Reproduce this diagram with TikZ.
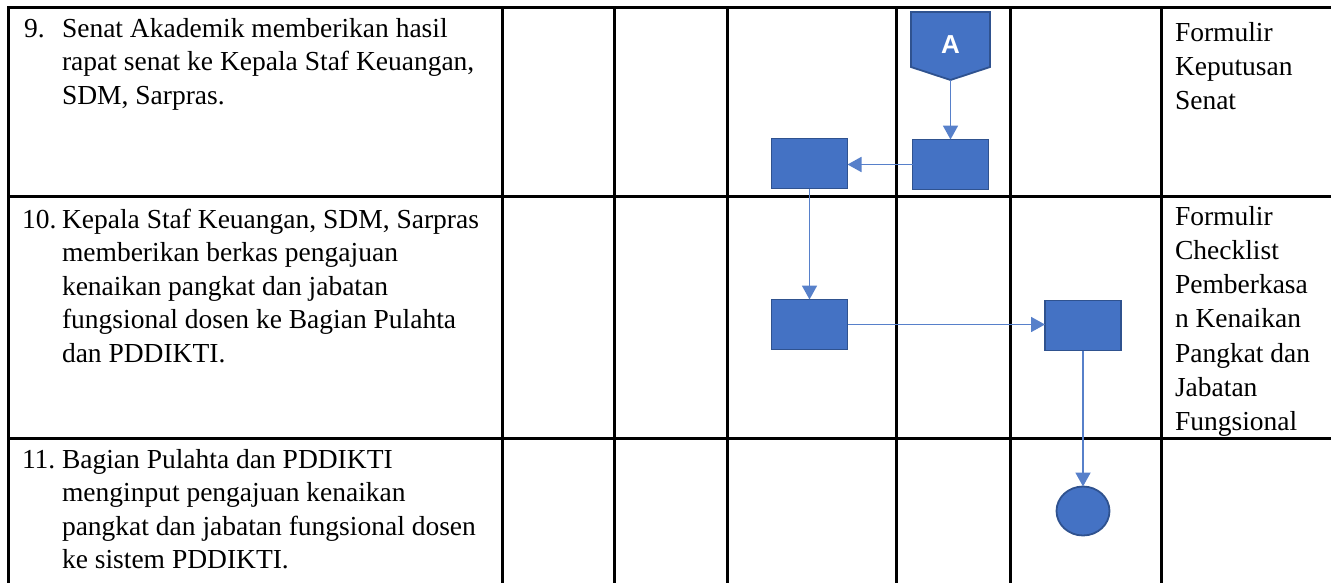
\documentclass[tikz,border=0pt]{standalone}
\usepackage{fontspec}
\setmainfont{Liberation Serif}
\newfontfamily\arialfont{Liberation Sans}
\usetikzlibrary{arrows.meta,shapes.geometric}
\definecolor{boxfill}{HTML}{4472C4}
\definecolor{boxline}{HTML}{2F528F}
\begin{document}
\begin{tikzpicture}[x=1pt,y=-1pt,
  gridline/.style={line width=3pt, line cap=rect, black},
  proc/.style={draw=boxline, fill=boxfill, line width=1.8pt, minimum width=76pt, minimum height=50pt, inner sep=0pt, outer sep=0pt},
  endnode/.style={draw=boxline, fill=boxfill, line width=1.8pt, ellipse, minimum width=53pt, minimum height=49pt, inner sep=0pt, outer sep=0pt},
  flow/.style={draw=boxfill!90!white, line width=1.8pt, -{Triangle[length=14pt,width=15pt]}},
  desc/.style={anchor=north west, inner sep=0pt, outer sep=0pt, align=left, font=\fontsize{27.5}{33.5}\selectfont},
  doc/.style={anchor=north west, inner sep=0pt, outer sep=0pt, align=left, font=\fontsize{27.5}{34.3}\selectfont}]
\useasboundingbox (0,0) rectangle (1331,582);
% table grid
\foreach \y in {7,196,438} \draw[gridline] (8,\y) -- (1335,\y);
\foreach \x in {8,502,614,727,896,1010,1161} \draw[gridline] (\x,7) -- (\x,590);
% step texts
\node[desc] (n9) at (24,13.55) {\strut 9.};
\node[desc] (t9) at (62,13.55) {\strut Senat Akademik memberikan hasil\\rapat senat ke Kepala Staf Keuangan,\\SDM, Sarpras.};
\node[desc] (n10) at (22,204.55) {\strut 10.};
\node[desc] (t10) at (62,204.55) {\strut Kepala Staf Keuangan, SDM, Sarpras\\memberikan berkas pengajuan\\kenaikan pangkat dan jabatan\\fungsional dosen ke Bagian Pulahta\\dan PDDIKTI.};
\node[desc] (n11) at (22,444.55) {\strut 11.};
\node[desc] (t11) at (62,444.55) {\strut Bagian Pulahta dan PDDIKTI\\menginput pengajuan kenaikan\\pangkat dan jabatan fungsional dosen\\ke sistem PDDIKTI.};
% documents
\node[doc] (d9) at (1175,17) {\strut Formulir\\Keputusan\\Senat};
\node[doc] (d10) at (1175,201) {\strut Formulir\\Checklist\\Pemberkasa\\n Kenaikan\\Pangkat dan\\Jabatan\\Fungsional};
% off-page connector A
\draw[draw=boxline, fill=boxfill, line width=1.8pt] (911,12) -- (990,12) -- (990,67) -- (950.5,80) -- (911,67) -- cycle;
\node[text=white, font=\arialfont\bfseries\fontsize{26}{26}\selectfont, inner sep=0pt] (A) at (950.5,44.5) {A};
\coordinate (Atip) at (950.5,80);
% process boxes
\node[proc] (b1) at (950.5,164.5) {};
\node[proc] (b2) at (809.5,163.5) {};
\node[proc] (b3) at (809.5,324.5) {};
\node[proc] (b4) at (1083,325.5) {};
\node[endnode] (e) at (1083,511) {};
% connectors
\draw[flow] (Atip) -- (b1.north);
\draw[flow] (b1.west) -- (b1.west -| b2.east);
\draw[flow] (b2.south) -- (b3.north);
\draw[flow] (b3.east) -- (b3.east -| b4.west);
\draw[flow] (b4.south) -- (e.north);
\end{tikzpicture}
\end{document}
